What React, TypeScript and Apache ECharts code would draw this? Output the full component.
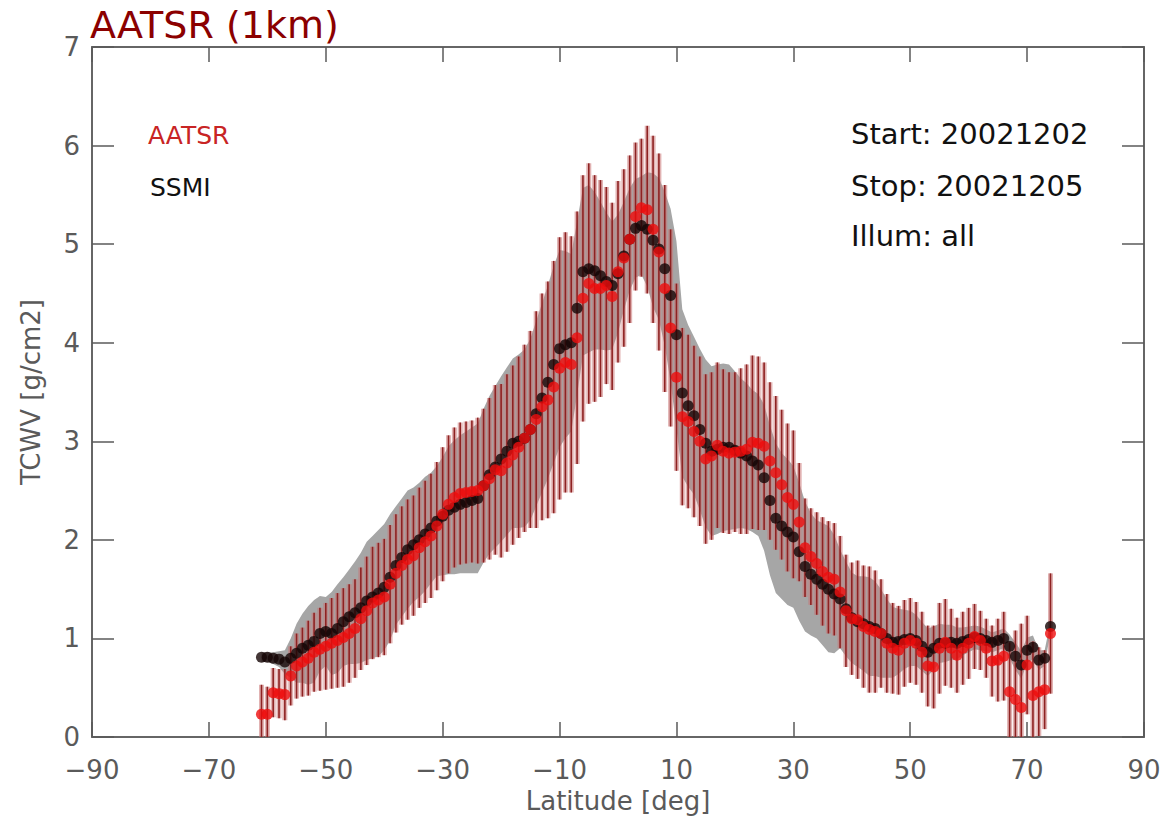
import React, { useEffect, useRef } from "react";
import * as echarts from "echarts";

// Latitude grid (deg)
const LAT = [
  -61, -60, -59, -58, -57, -56, -55, -54, -53, -52,
  -51, -50, -49, -48, -47, -46, -45, -44, -43, -42,
  -41, -40, -39, -38, -37, -36, -35, -34, -33, -32,
  -31, -30, -29, -28, -27, -26, -25, -24, -23, -22,
  -21, -20, -19, -18, -17, -16, -15, -14, -13, -12,
  -11, -10, -9, -8, -7, -6, -5, -4, -3, -2,
  -1, 0, 1, 2, 3, 4, 5, 6, 7, 8,
  9, 10, 11, 12, 13, 14, 15, 16, 17, 18,
  19, 20, 21, 22, 23, 24, 25, 26, 27, 28,
  29, 30, 31, 32, 33, 34, 35, 36, 37, 38,
  39, 40, 41, 42, 43, 44, 45, 46, 47, 48,
  49, 50, 51, 52, 53, 54, 55, 56, 57, 58,
  59, 60, 61, 62, 63, 64, 65, 66, 67, 68,
  69, 70, 71, 72, 73, 74,
];

// SSMI mean TCWV [g/cm2]
const SSMI_MEAN = [
  0.81, 0.81, 0.80, 0.79, 0.76, 0.80, 0.85, 0.90, 0.93, 0.97,
  1.05, 1.07, 1.05, 1.10, 1.17, 1.22, 1.26, 1.31, 1.38, 1.42,
  1.46, 1.52, 1.62, 1.74, 1.82, 1.90, 1.95, 2.00, 2.06, 2.12,
  2.19, 2.24, 2.30, 2.33, 2.36, 2.38, 2.40, 2.42, 2.55, 2.66,
  2.74, 2.82, 2.90, 2.98, 3.00, 3.03, 3.12, 3.28, 3.44, 3.60,
  3.78, 3.94, 3.98, 4.00, 4.35, 4.72, 4.75, 4.73, 4.68, 4.62,
  4.58, 4.70, 4.88, 5.05, 5.16, 5.19, 5.15, 5.04, 4.95, 4.75,
  4.48, 4.08, 3.49, 3.36, 3.26, 3.12, 2.98, 2.90, 2.92, 2.94,
  2.94, 2.91, 2.88, 2.85, 2.80, 2.76, 2.63, 2.40, 2.22, 2.14,
  2.08, 2.03, 1.88, 1.73, 1.65, 1.60, 1.55, 1.50, 1.45, 1.40,
  1.30, 1.21, 1.17, 1.15, 1.12, 1.10, 1.05, 1.00, 0.96, 0.97,
  0.99, 1.00, 0.98, 0.92, 0.86, 0.90, 0.95, 0.95, 0.96, 0.95,
  0.97, 0.99, 1.01, 1.00, 0.98, 0.96, 0.98, 1.00, 0.92, 0.82,
  0.73, 0.88, 0.91, 0.78, 0.80, 1.12,
];

// SSMI standard deviation
const SSMI_STD = [
  0.05, 0.05, 0.06, 0.08, 0.12, 0.20, 0.30, 0.35, 0.40, 0.42,
  0.38, 0.35, 0.42, 0.45, 0.45, 0.48, 0.52, 0.56, 0.60, 0.62,
  0.64, 0.64, 0.64, 0.60, 0.60, 0.60, 0.58, 0.58, 0.58, 0.56,
  0.56, 0.60, 0.65, 0.68, 0.70, 0.72, 0.74, 0.76, 0.78, 0.80,
  0.82, 0.84, 0.85, 0.86, 0.88, 0.90, 0.92, 0.94, 0.96, 0.98,
  1.00, 1.00, 0.95, 0.90, 0.88, 0.85, 0.85, 0.80, 0.75, 0.70,
  0.65, 0.60, 0.55, 0.52, 0.50, 0.50, 0.58, 0.68, 0.72, 0.78,
  0.88, 0.95, 0.85, 0.82, 0.80, 0.82, 0.85, 0.86, 0.86, 0.85,
  0.84, 0.80, 0.76, 0.74, 0.72, 0.72, 0.74, 0.76, 0.76, 0.74,
  0.74, 0.72, 0.70, 0.66, 0.62, 0.60, 0.62, 0.64, 0.60, 0.50,
  0.48, 0.46, 0.46, 0.48, 0.50, 0.48, 0.45, 0.40, 0.36, 0.33,
  0.30, 0.28, 0.26, 0.25, 0.24, 0.22, 0.20, 0.19, 0.18, 0.16,
  0.14, 0.13, 0.12, 0.12, 0.11, 0.10, 0.10, 0.10, 0.12, 0.14,
  0.14, 0.13, 0.12, 0.10, 0.08, 0.05,
];

// AATSR mean TCWV [g/cm2]
const AATSR_MEAN = [
  0.23, 0.23, 0.45, 0.44, 0.43, 0.62, 0.72, 0.76, 0.80, 0.86,
  0.89, 0.92, 0.95, 0.98, 1.01, 1.05, 1.10, 1.20, 1.28, 1.36,
  1.39, 1.42, 1.55, 1.66, 1.74, 1.80, 1.84, 1.92, 1.98, 2.04,
  2.14, 2.26, 2.36, 2.43, 2.47, 2.48, 2.49, 2.50, 2.55, 2.62,
  2.71, 2.70, 2.78, 2.86, 2.94, 3.03, 3.12, 3.22, 3.35, 3.42,
  3.55, 3.74, 3.80, 3.78, 4.05, 4.45, 4.60, 4.55, 4.55, 4.58,
  4.47, 4.72, 4.86, 5.05, 5.28, 5.37, 5.35, 5.15, 4.92, 4.55,
  4.15, 3.65, 3.25, 3.20, 3.10, 3.00, 2.82, 2.85, 2.96, 2.90,
  2.88, 2.89, 2.90, 2.92, 2.99, 2.98, 2.95, 2.80, 2.68, 2.56,
  2.43, 2.36, 2.18, 1.92, 1.83, 1.76, 1.68, 1.62, 1.60, 1.47,
  1.28, 1.20, 1.19, 1.12, 1.09, 1.07, 1.05, 0.95, 0.90, 0.88,
  0.95, 0.98, 0.95, 0.86, 0.72, 0.71, 0.90, 0.96, 0.90, 0.83,
  0.90, 0.95, 1.02, 0.98, 0.90, 0.77, 0.78, 0.82, 0.46, 0.38,
  0.30, 0.73, 0.42, 0.46, 0.48, 1.05,
];

// AATSR standard deviation (error bar half length)
const AATSR_STD = [
  0.30, 0.28, 0.25, 0.25, 0.26, 0.30, 0.33, 0.35, 0.38, 0.40,
  0.42, 0.44, 0.46, 0.48, 0.50, 0.50, 0.50, 0.52, 0.55, 0.57,
  0.58, 0.59, 0.60, 0.60, 0.60, 0.61, 0.61, 0.61, 0.62, 0.63,
  0.65, 0.68, 0.70, 0.71, 0.72, 0.72, 0.72, 0.74, 0.78, 0.82,
  0.86, 0.88, 0.90, 0.91, 0.92, 0.95, 1.00, 1.10, 1.15, 1.20,
  1.28, 1.33, 1.32, 1.30, 1.28, 1.25, 1.22, 1.15, 1.10, 1.00,
  0.95, 0.92, 0.90, 0.85, 0.75, 0.70, 0.85, 0.95, 1.00, 1.05,
  1.00, 0.95, 0.90, 0.88, 0.87, 0.86, 0.86, 0.85, 0.84, 0.83,
  0.82, 0.81, 0.84, 0.86, 0.88, 0.88, 0.85, 0.80, 0.78, 0.76,
  0.75, 0.75, 0.60, 0.50, 0.49, 0.52, 0.55, 0.57, 0.57, 0.57,
  0.57, 0.57, 0.60, 0.62, 0.64, 0.62, 0.55, 0.50, 0.46, 0.45,
  0.44, 0.43, 0.42, 0.41, 0.41, 0.42, 0.46, 0.44, 0.40, 0.38,
  0.37, 0.36, 0.33, 0.30, 0.30, 0.36, 0.42, 0.45, 0.50, 0.70,
  0.85, 0.50, 0.55, 0.45, 0.40, 0.61,
];

const X_TICKS = [-90, -70, -50, -30, -10, 10, 30, 50, 70, 90];
const Y_TICKS = [0, 1, 2, 3, 4, 5, 6, 7];

const FONT = '"DejaVu Sans", "Liberation Sans", sans-serif';
const AXIS_GREY = "#5a5a5a";

export default function App() {
  const ref = useRef<HTMLDivElement>(null);

  useEffect(() => {
    if (!ref.current) return;
    const chart = echarts.init(ref.current, null, { renderer: "svg" });

    const bandPolygon = (mean: number[], std: number[], fill: string) =>
      (params: any, api: any) => {
        const pts: number[][] = [];
        for (let i = 0; i < LAT.length; i++) pts.push(api.coord([LAT[i], mean[i] + std[i]]));
        for (let i = LAT.length - 1; i >= 0; i--) pts.push(api.coord([LAT[i], mean[i] - std[i]]));
        return { type: "polygon", shape: { points: pts }, style: { fill } };
      };

    const axisCommon = {
      min: -90,
      max: 90,
      type: "value" as const,
      splitLine: { show: false },
      axisLine: { show: true, onZero: false, lineStyle: { color: "#666", width: 2 } },
    };

    const option: any = {
      animation: false,
      backgroundColor: "#ffffff",
      grid: { left: 92, right: 21, top: 47, bottom: 85, containLabel: false },
      xAxis: [
        {
          ...axisCommon,
          position: "bottom",
          axisTick: {
            show: true,
            inside: true,
            length: 15,
            customValues: X_TICKS,
            lineStyle: { color: AXIS_GREY, width: 1.5 },
          },
          axisLabel: {
            customValues: X_TICKS,
            formatter: (v: number) => String(v).replace("-", "\u2212"),
            color: AXIS_GREY,
            fontSize: 26,
            fontFamily: FONT,
            margin: 20,
          },
          name: "Latitude [deg]",
          nameLocation: "middle",
          nameGap: 48,
          nameTextStyle: { color: AXIS_GREY, fontSize: 26, fontFamily: FONT },
        },
        {
          ...axisCommon,
          position: "top",
          axisTick: {
            show: true,
            inside: true,
            length: 15,
            customValues: X_TICKS,
            lineStyle: { color: AXIS_GREY, width: 1.5 },
          },
          axisLabel: { show: false },
        },
      ],
      yAxis: [
        {
          type: "value",
          min: 0,
          max: 7,
          interval: 1,
          position: "left",
          splitLine: { show: false },
          axisLine: { show: true, onZero: false, lineStyle: { color: "#666", width: 2 } },
          axisTick: {
            show: true,
            inside: true,
            length: 22,
            customValues: Y_TICKS,
            lineStyle: { color: AXIS_GREY, width: 1.5 },
          },
          axisLabel: {
            customValues: Y_TICKS,
            color: AXIS_GREY,
            fontSize: 26,
            fontFamily: FONT,
            margin: 12,
          },
          name: "TCWV [g/cm2]",
          nameLocation: "middle",
          nameGap: 48,
          nameRotate: 90,
          nameTextStyle: { color: AXIS_GREY, fontSize: 26, fontFamily: FONT },
        },
        {
          type: "value",
          min: 0,
          max: 7,
          interval: 1,
          position: "right",
          splitLine: { show: false },
          axisLine: { show: true, onZero: false, lineStyle: { color: "#666", width: 2 } },
          axisTick: {
            show: true,
            inside: true,
            length: 22,
            customValues: Y_TICKS,
            lineStyle: { color: AXIS_GREY, width: 1.5 },
          },
          axisLabel: { show: false },
        },
      ],
      series: [
        {
          name: "SSMI std",
          type: "custom",
          coordinateSystem: "cartesian2d",
          xAxisIndex: 0,
          yAxisIndex: 0,
          clip: true,
          silent: true,
          z: 1,
          data: [[LAT[0], SSMI_MEAN[0]]],
          renderItem: bandPolygon(SSMI_MEAN, SSMI_STD, "#a6a6a6"),
        },
        {
          name: "AATSR error halo",
          type: "custom",
          coordinateSystem: "cartesian2d",
          xAxisIndex: 0,
          yAxisIndex: 0,
          clip: true,
          silent: true,
          z: 2,
          encode: { x: 0, y: [1, 2] },
          data: LAT.map((l, i) => [l, AATSR_MEAN[i] - AATSR_STD[i], AATSR_MEAN[i] + AATSR_STD[i]]),
          renderItem: (params: any, api: any) => {
            const lo = api.coord([api.value(0), api.value(1)]);
            const hi = api.coord([api.value(0), api.value(2)]);
            return {
              type: "line",
              shape: { x1: lo[0], y1: lo[1], x2: hi[0], y2: hi[1] },
              style: { stroke: "rgba(200,115,115,0.55)", lineWidth: 5 },
            };
          },
        },
        {
          name: "AATSR error",
          type: "custom",
          coordinateSystem: "cartesian2d",
          xAxisIndex: 0,
          yAxisIndex: 0,
          clip: true,
          silent: true,
          z: 3,
          encode: { x: 0, y: [1, 2] },
          data: LAT.map((l, i) => [l, AATSR_MEAN[i] - AATSR_STD[i], AATSR_MEAN[i] + AATSR_STD[i]]),
          renderItem: (params: any, api: any) => {
            const lo = api.coord([api.value(0), api.value(1)]);
            const hi = api.coord([api.value(0), api.value(2)]);
            return {
              type: "line",
              shape: { x1: lo[0], y1: lo[1], x2: hi[0], y2: hi[1] },
              style: { stroke: "#8e2222", lineWidth: 1.6 },
            };
          },
        },
        {
          name: "SSMI",
          type: "scatter",
          xAxisIndex: 0,
          yAxisIndex: 0,
          z: 4,
          symbol: "circle",
          symbolSize: 11,
          itemStyle: { color: "#150505" },
          data: LAT.map((l, i) => [l, SSMI_MEAN[i]]),
        },
        {
          name: "AATSR",
          type: "scatter",
          xAxisIndex: 0,
          yAxisIndex: 0,
          z: 5,
          symbol: "circle",
          symbolSize: 11,
          itemStyle: { color: "#ee0c0c" },
          data: LAT.map((l, i) => [l, AATSR_MEAN[i]]),
        },
      ],
      graphic: [
        {
          type: "text",
          x: 90,
          y: 25,
          style: {
            text: "AATSR (1km)",
            fill: "#8b0000",
            fontSize: 38,
            fontFamily: FONT,
            textVerticalAlign: "middle",
          },
        },
        {
          type: "text",
          x: 148,
          y: 135,
          style: { text: "AATSR", fill: "#c82424", fontSize: 25, fontFamily: FONT, textVerticalAlign: "middle" },
        },
        {
          type: "text",
          x: 150,
          y: 187,
          style: { text: "SSMI", fill: "#111", fontSize: 25, fontFamily: FONT, textVerticalAlign: "middle" },
        },
        {
          type: "text",
          x: 851,
          y: 134,
          style: { text: "Start: 20021202", fill: "#111", fontSize: 29, fontFamily: FONT, textVerticalAlign: "middle" },
        },
        {
          type: "text",
          x: 851,
          y: 186,
          style: { text: "Stop: 20021205", fill: "#111", fontSize: 29, fontFamily: FONT, textVerticalAlign: "middle" },
        },
        {
          type: "text",
          x: 851,
          y: 236,
          style: { text: "Illum: all", fill: "#111", fontSize: 29, fontFamily: FONT, textVerticalAlign: "middle" },
        },
      ],
    };

    chart.setOption(option);
    return () => chart.dispose();
  }, []);

  return (
    <div
      ref={ref}
      style={{ position: "fixed", left: 0, top: 0, width: 1165, height: 822, background: "#fff" }}
    />
  );
}
